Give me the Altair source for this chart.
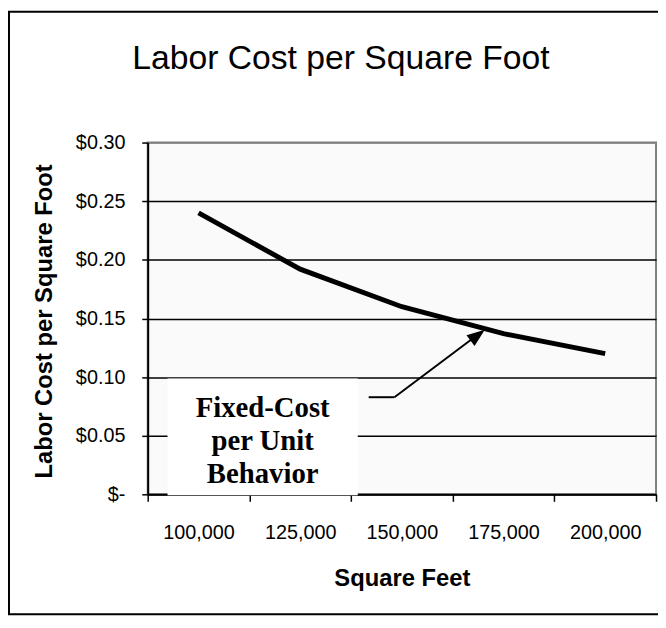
import altair as alt
import pandas as pd

# ---- data ----
square_feet = [100000, 125000, 150000, 175000, 200000]
cost_per_sqft = [0.24, 0.192, 0.16, 0.137, 0.12]
y_ticks = [0, 0.05, 0.10, 0.15, 0.20, 0.25, 0.30]
chart_title = "Labor Cost per Square Foot"
x_title = "Square Feet"
y_title = "Labor Cost per Square Foot"
note_lines = ["Fixed-Cost", "per Unit", "Behavior"]

df = pd.DataFrame({"sqft": square_feet, "cost": cost_per_sqft})
one = pd.DataFrame({"k": [0]})

W, H = 513, 355
SANS = "Liberation Sans"
SERIF = "Liberation Serif"

x_enc = alt.X(
    "sqft:O",
    sort=square_feet,
    scale=alt.Scale(paddingInner=0, paddingOuter=0),
    axis=alt.Axis(
        title=x_title,
        labelExpr="isValid(datum.value) && isFinite(datum.value) ? format(datum.value, ',') : ''",
        labelAngle=0,
        tickBand="extent",
        tickSize=7,
        tickWidth=1.5,
        tickColor="black",
        domainColor="black",
        domainWidth=2,
        labelFont=SANS,
        labelFontSize=20,
        labelColor="black",
        labelBaseline="alphabetic",
        labelPadding=38,
        titleFont=SANS,
        titleFontSize=24,
        titleFontWeight="bold",
        titleColor="black",
        titleX=W / 2,
        titleY=92,
        titleBaseline="alphabetic",
        grid=False,
    ),
)

y_enc = alt.Y(
    "cost:Q",
    scale=alt.Scale(domain=[0, 0.3], nice=False, zero=True),
    axis=alt.Axis(
        values=y_ticks,
        title=y_title,
        labelExpr="datum.value == 0 ? '$-\u00a0\u00a0\u00a0\u00a0' : '$' + format(datum.value, '.2f')",
        tickSize=6,
        tickWidth=1.5,
        tickColor="black",
        domainColor="black",
        domainWidth=2,
        labelFont=SANS,
        labelFontSize=20,
        labelColor="black",
        labelPadding=17,
        grid=True,
        gridColor={"condition": {"test": "datum.value >= 0.299", "value": "#808080"}, "value": "black"},
        gridWidth=1.5,
        titleFont=SANS,
        titleFontSize=24,
        titleFontWeight="bold",
        titleColor="black",
        titleX=-97,
        titleY=180,
        titleBaseline="alphabetic",
        titleAlign="center",
    ),
)

line = alt.Chart(df).mark_line(color="black", strokeWidth=5).encode(x=x_enc, y=y_enc)

border = alt.Chart(one).mark_rect(fillOpacity=0, stroke="black", strokeWidth=2).encode(
    x=alt.value(-140), x2=alt.value(700), y=alt.value(-132), y2=alt.value(476)
)

title = alt.Chart(one).mark_text(
    text=chart_title, font=SANS, fontSize=34, color="black", align="center", baseline="alphabetic"
).encode(x=alt.value(195), y=alt.value(-74))

box = alt.Chart(one).mark_rect(fill="white").encode(
    x=alt.value(20), x2=alt.value(212), y=alt.value(238), y2=alt.value(356)
)

note = alt.Chart(one).mark_text(
    text=note_lines, font=SERIF, fontSize=29, fontWeight="bold", color="black",
    align="center", baseline="alphabetic", lineHeight=33.5
).encode(x=alt.value(116), y=alt.value(277))

seg1 = alt.Chart(one).mark_rule(color="black", strokeWidth=2).encode(
    x=alt.value(223), x2=alt.value(249), y=alt.value(257), y2=alt.value(257)
)
seg2 = alt.Chart(one).mark_rule(color="black", strokeWidth=2).encode(
    x=alt.value(249), x2=alt.value(333), y=alt.value(257), y2=alt.value(194)
)
head = alt.Chart(one).mark_point(
    shape="M0,-1L0.75,1L-0.75,1Z", filled=True, color="black", opacity=1, size=324, angle=53
).encode(x=alt.value(333), y=alt.value(194.4))

chart = alt.layer(border, line, box, note, seg1, seg2, head, title).properties(
    width=W,
    height=H,
    padding={"left": 141, "top": 133, "right": 2, "bottom": 120},
    autosize=alt.AutoSizeParams(type="none"),
    background="white",
).configure_view(
    stroke="#808080", strokeWidth=2, fill="#FAFAFA"
)

chart.save("out.html", embed_options={"renderer": "svg", "actions": False})
